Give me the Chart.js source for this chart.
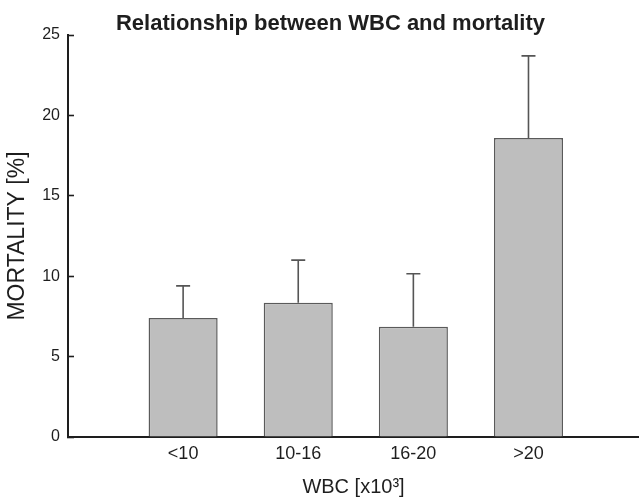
<!DOCTYPE html>
<html>
<head>
<meta charset="utf-8">
<script src="https://cdn.jsdelivr.net/npm/chart.js@4/dist/chart.umd.min.js"></script>
<style>
  html, body { margin: 0; padding: 0; background: #fff; }
  #wrap { width: 639px; height: 499px; }
</style>
</head>
<body>
<div id="wrap"><canvas id="chart"></canvas></div>
<script>
// values
const categories = ['<10', '10-16', '16-20', '>20'];
const mortality = [7.4, 8.35, 6.85, 18.6];
const mortalityErr = [2.0, 2.65, 3.3, 5.1];
const yTicks = [0, 5, 10, 15, 20, 25];

const FONT = "'Liberation Sans', Arial, sans-serif";
const INK = '#1e1e1e';

// upper error bars with a cap, drawn from the bar top
const errorBars = {
    id: 'errorBars',
    afterDatasetsDraw(chart) {
        const ctx = chart.ctx;
        const y = chart.scales.y;
        const meta = chart.getDatasetMeta(0);
        ctx.save();
        ctx.strokeStyle = '#555';
        ctx.lineWidth = 1.6;
        meta.data.forEach((bar, i) => {
            const top = y.getPixelForValue(mortality[i] + mortalityErr[i]);
            ctx.beginPath();
            ctx.moveTo(bar.x, bar.y);
            ctx.lineTo(bar.x, top);
            ctx.moveTo(bar.x - 7, top);
            ctx.lineTo(bar.x + 7, top);
            ctx.stroke();
        });
        ctx.restore();
    }
};

new Chart(document.getElementById('chart'), {
    type: 'bar',
    data: {
        datasets: [{
            data: categories.map((c, i) => ({ x: i + 1, y: mortality[i] })),
            backgroundColor: '#bebebe',
            borderColor: '#5a5a5a',
            borderWidth: 1.5,
            barPercentage: 0.6,
            categoryPercentage: 1
        }]
    },
    options: {
        responsive: true,
        maintainAspectRatio: false,
        animation: false,
        // left padding nudges the title to the right, the y axis is narrowed to match
        layout: { padding: { left: 22, right: 0, top: 0, bottom: 0 } },
        plugins: {
            legend: { display: false },
            tooltip: { enabled: false },
            title: {
                display: true,
                text: 'Relationship between WBC and mortality',
                color: INK,
                font: { family: FONT, size: 22, weight: 'bold', lineHeight: 1 },
                padding: { top: 13, bottom: 0 }
            }
        },
        scales: {
            x: {
                type: 'linear',
                offset: false,
                min: 0,
                max: 4.96,
                afterBuildTicks: (scale) => {
                    scale.ticks = categories.map((c, i) => ({ value: i + 1 }));
                },
                afterFit: (scale) => { scale.height = 62; },
                grid: { display: false, drawTicks: false, offset: false },
                border: { display: true, color: INK, width: 2 },
                ticks: {
                    autoSkip: false,
                    maxRotation: 0,
                    padding: 6,
                    color: INK,
                    font: { family: FONT, size: 18 },
                    callback: (v) => categories[v - 1] || ''
                },
                title: {
                    display: true,
                    text: 'WBC [x10³]',
                    color: INK,
                    font: { family: FONT, size: 20 },
                    padding: { top: 0, bottom: 0 }
                }
            },
            y: {
                min: 0,
                max: 25,
                afterBuildTicks: (scale) => {
                    scale.ticks = yTicks.map(v => ({ value: v }));
                },
                afterFit: (scale) => { scale.width = 46; },
                grid: {
                    drawOnChartArea: false,
                    drawTicks: true,
                    tickLength: -6,
                    tickColor: INK,
                    tickWidth: 1.6
                },
                border: { display: true, color: INK, width: 2 },
                ticks: {
                    padding: 14,
                    color: INK,
                    font: { family: FONT, size: 16 }
                },
                title: {
                    display: true,
                    text: 'MORTALITY [%]',
                    color: INK,
                    font: { family: FONT, size: 23 },
                    padding: { top: -18, bottom: 0 }
                }
            }
        }
    },
    plugins: [errorBars]
});
</script>
</body>
</html>
